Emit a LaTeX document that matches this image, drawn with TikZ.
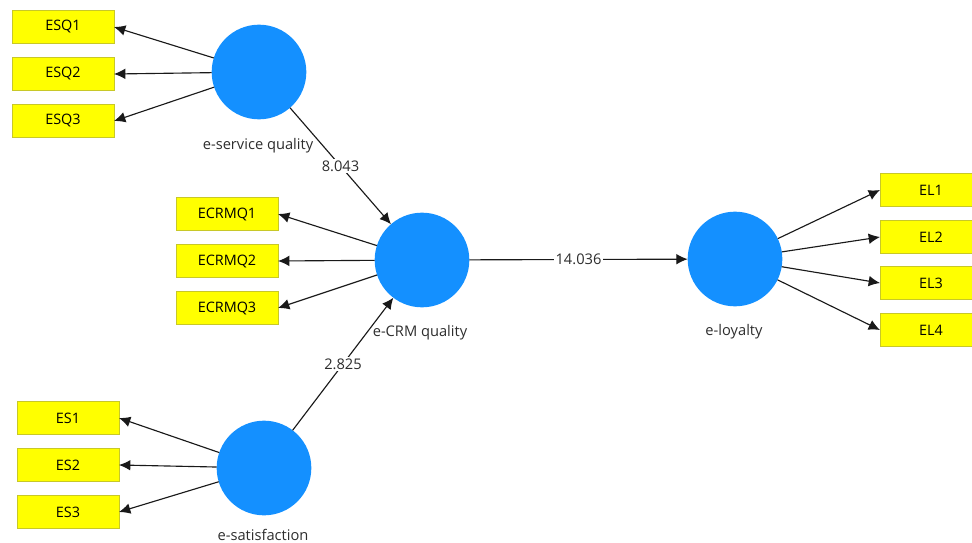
\documentclass[tikz,border=0pt]{standalone}
\usepackage{fontspec}
\setmainfont{Open Sans}
\usetikzlibrary{arrows.meta}
\definecolor{lvblue}{RGB}{20,144,255}
\definecolor{boxyellow}{RGB}{255,255,0}
\definecolor{boxborder}{RGB}{200,200,40}
\definecolor{labelgray}{RGB}{45,45,45}
\tikzset{
  latent/.style={circle, fill=lvblue, draw=none, minimum size=71pt, inner sep=0pt, outer sep=0pt},
  indicator/.style={rectangle, fill=boxyellow, draw=boxborder, line width=0.6pt, minimum width=76.5pt, minimum height=24.5pt, inner sep=0pt, outer sep=0pt, font=\fontsize{10.8}{12}\selectfont, text=black},
  lvlabel/.style={font=\fontsize{11}{13}\selectfont, text=labelgray, inner sep=1pt},
  conn/.style={draw=black!90, line width=0.85pt, -{Latex[length=8.5pt,width=8pt]}},
  coef/.style={fill=white, font=\fontsize{11}{13}\selectfont, text=labelgray, inner sep=1.5pt}
}
\begin{document}
\begin{tikzpicture}[x=0.75pt,y=-0.75pt]
\useasboundingbox (0,0) rectangle (972,543);
% latent variables
\node[latent] (esq) at (259,72) {};
\node[latent] (ecrm) at (422,260) {};
\node[latent] (el) at (735,259) {};
\node[latent] (es) at (264,468) {};
% indicators
\node[indicator] (esq1) at (63,27) {ESQ1};
\node[indicator] (esq2) at (63,74) {ESQ2};
\node[indicator] (esq3) at (63,121) {ESQ3};
\node[indicator] (ecrm1) at (227,214) {ECRMQ1};
\node[indicator] (ecrm2) at (227,261) {ECRMQ2};
\node[indicator] (ecrm3) at (227,308) {ECRMQ3};
\node[indicator] (es1) at (68,418) {ES1};
\node[indicator] (es2) at (68,465) {ES2};
\node[indicator] (es3) at (68,512) {ES3};
\node[indicator] (el1) at (931,190) {EL1};
\node[indicator] (el2) at (931,237) {EL2};
\node[indicator] (el3) at (931,283) {EL3};
\node[indicator] (el4) at (931,330) {EL4};
% structural paths
\draw[conn] (esq) -- node[coef] (c1) {8.043} (ecrm);
\draw[conn] (es) -- node[coef] (c2) {2.825} (ecrm);
\draw[conn] (ecrm) -- node[coef] (c3) {14.036} (el);
% latent labels
\node[lvlabel] (lesq) at (258,146) {e-service quality};
\node[lvlabel] (lecrm) at (420,333) {e-CRM quality};
\node[lvlabel] (lel) at (734,332) {e-loyalty};
\node[lvlabel] (les) at (263,535) {e-satisfaction};
% measurement arrows
\foreach \i in {1,2,3}{
  \draw[conn] (esq) -- (esq\i.east);
  \draw[conn] (ecrm) -- (ecrm\i.east);
  \draw[conn] (es) -- (es\i.east);
}
\foreach \i in {1,2,3,4}{
  \draw[conn] (el) -- (el\i.west);
}
\end{tikzpicture}
\end{document}
